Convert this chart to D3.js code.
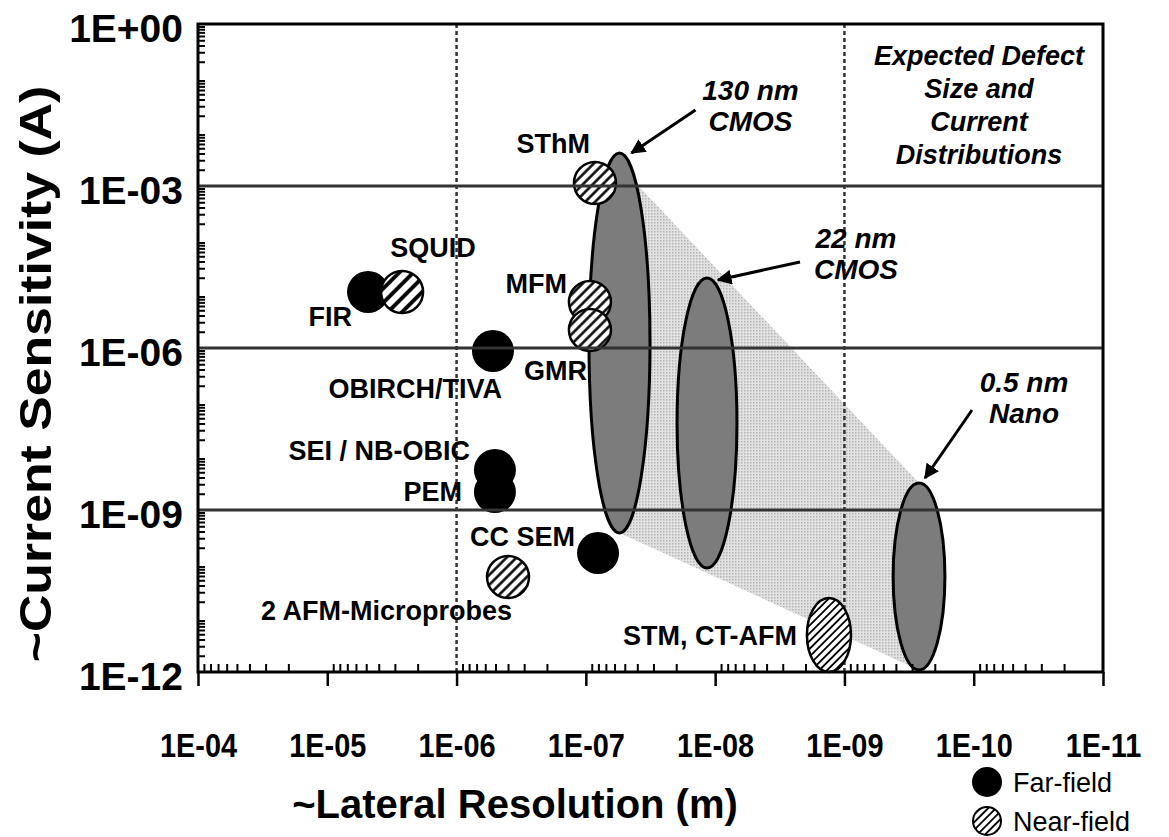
<!DOCTYPE html>
<html>
<head>
<meta charset="utf-8">
<script src="https://cdn.jsdelivr.net/npm/d3@7"></script>
<style>
  body { margin: 0; background: #fff; }
  svg { display: block; font-family: "Liberation Sans", Arial, Helvetica, sans-serif; }
</style>
</head>
<body>
<svg id="chart" width="1169" height="837"></svg>
<script>
// Measurement techniques (markers)
const techNames = ['FIR', 'SQUID', 'OBIRCH/TIVA', 'SEI / NB-OBIC', 'PEM', 'CC SEM', '2 AFM-Microprobes', 'SThM', 'MFM', 'GMR']
const techResolution = [4.84e-6, 2.64e-6, 5.23e-7, 5.05e-7, 5.05e-7, 8.05e-8, 4.0e-7, 8.5e-8, 9.3e-8, 9.3e-8]
const techSensitivity = [1.09e-5, 1.09e-5, 8.8e-7, 5.5e-9, 2.15e-9, 1.6e-10, 5.75e-11, 1.14e-3, 7.1e-6, 2.15e-6]
const techField = ['far', 'near', 'far', 'far', 'far', 'far', 'near', 'near', 'near', 'near']

// STM covers a range, drawn as an ellipse
const stmName = 'STM, CT-AFM'
const stmResolution = [1.95e-9, 8.9e-10]
const stmSensitivity = [2.34e-11, 1e-12]

// Expected defect size / current distributions per technology node
const nodeNames = [['130 nm', 'CMOS'], ['22 nm', 'CMOS'], ['0.5 nm', 'Nano']]
const nodeResolution = [[9.46e-8, 3.19e-8], [1.97e-8, 6.78e-9], [4.2e-10, 1.67e-10]]
const nodeSensitivity = [[4.08e-3, 3.75e-10], [1.98e-5, 8.43e-11], [3.16e-9, 1.09e-12]]

// Shaded trend band joining the nodes
const bandResolution = [5.49e-8, 2.65e-10, 2.65e-10, 5.49e-8]
const bandSensitivity = [2.35e-3, 3.16e-9, 1.09e-12, 3.75e-10]

// Axes
const xTicks = [1e-4, 1e-5, 1e-6, 1e-7, 1e-8, 1e-9, 1e-10, 1e-11]
const xTickLabels = ['1E-04', '1E-05', '1E-06', '1E-07', '1E-08', '1E-09', '1E-10', '1E-11']
const yTicks = [1, 1e-3, 1e-6, 1e-9, 1e-12]
const yTickLabels = ['1E+00', '1E-03', '1E-06', '1E-09', '1E-12']
const gridSensitivity = [1e-3, 1e-6, 1e-9]
const gridResolution = [1e-6, 1e-9]
const boxNote = ['Expected Defect', 'Size and', 'Current', 'Distributions']
const legendItems = ['Far-field', 'Near-field']

// label placement relative to marker centre (anchor, dx, dy)
const labelPlace = {
  'FIR': ['end', -16, 34],
  'SQUID': ['middle', 31, -35],
  'OBIRCH/TIVA': ['end', 9, 47],
  'SEI / NB-OBIC': ['end', -25, -10],
  'PEM': ['end', -33, 9],
  'CC SEM': ['end', -23, -7],
  '2 AFM-Microprobes': ['end', 4, 43],
  'SThM': ['end', -5, -30],
  'MFM': ['end', -23, -9],
  'GMR': ['end', -3, 50]
}
// arrow/text offsets from the top of each node ellipse
const nodeNote = [
  { tip: [12, 0], from: [76, -43], text: [131, -53] },
  { tip: [11, 2], from: [93, -16], text: [149, -30] },
  { tip: [6, -5], from: [53, -73], text: [105, -91] }
]

const plotLeft = 198, plotRight = 1103, plotTop = 24, plotBottom = 672
const x = d3.scaleLog().domain([1e-4, 1e-11]).range([plotLeft, plotRight])
const y = d3.scaleLog().domain([1, 1e-12]).range([plotTop, plotBottom])

const svg = d3.select('#chart')
const defs = svg.append('defs')

// patterns
const hatch = (id, size, w) => {
  const p = defs.append('pattern').attr('id', id)
    .attr('patternUnits', 'userSpaceOnUse')
    .attr('width', size).attr('height', size)
    .attr('patternTransform', 'rotate(-45)')
  p.append('rect').attr('width', size).attr('height', size).attr('fill', '#fff')
  p.append('line').attr('x1', 0).attr('x2', size).attr('y1', size / 2).attr('y2', size / 2)
    .attr('stroke', '#000').attr('stroke-width', w)
}
hatch('hatch', 7, 2.5)
hatch('hatchWide', 10, 3.8)
hatch('hatchSmall', 5.5, 1.8)

const stip = defs.append('pattern').attr('id', 'stipple')
  .attr('patternUnits', 'userSpaceOnUse').attr('width', 3).attr('height', 3)
stip.append('rect').attr('width', 3).attr('height', 3).attr('fill', '#e2e2e2')
stip.append('rect').attr('width', 1.5).attr('height', 1.5).attr('fill', '#b4b4b4')

defs.append('marker').attr('id', 'arrow')
  .attr('viewBox', '0 0 10 10').attr('refX', 9).attr('refY', 5)
  .attr('markerWidth', 5).attr('markerHeight', 5).attr('orient', 'auto')
  .append('path').attr('d', 'M0,0L10,5L0,10z').attr('fill', '#000')

// shaded band
svg.append('path')
  .datum(d3.zip(bandResolution, bandSensitivity))
  .attr('d', d3.line().x(d => x(d[0])).y(d => y(d[1])).curve(d3.curveLinearClosed))
  .attr('fill', 'url(#stipple)')

// dotted vertical lines
svg.append('g').selectAll('line').data(gridResolution).join('line')
  .attr('x1', d => x(d)).attr('x2', d => x(d))
  .attr('y1', plotTop).attr('y2', plotBottom)
  .attr('stroke', '#333').attr('stroke-width', 2.5).attr('stroke-dasharray', '4,3')

// node ellipses
const ell = (rs, ss) => ({
  cx: (x(rs[0]) + x(rs[1])) / 2,
  cy: (y(ss[0]) + y(ss[1])) / 2,
  rx: Math.abs(x(rs[0]) - x(rs[1])) / 2,
  ry: Math.abs(y(ss[0]) - y(ss[1])) / 2
})
const nodes = nodeNames.map((n, i) => Object.assign({ name: n, note: nodeNote[i] }, ell(nodeResolution[i], nodeSensitivity[i])))
svg.append('g').selectAll('ellipse').data(nodes).join('ellipse')
  .attr('cx', d => d.cx).attr('cy', d => d.cy).attr('rx', d => d.rx).attr('ry', d => d.ry)
  .attr('fill', '#7c7c7c').attr('stroke', '#000').attr('stroke-width', 3)

// STM ellipse
const stm = ell(stmResolution, stmSensitivity)
svg.append('ellipse')
  .attr('cx', stm.cx).attr('cy', stm.cy).attr('rx', stm.rx).attr('ry', stm.ry)
  .attr('fill', 'url(#hatchSmall)').attr('stroke', '#000').attr('stroke-width', 2.5)

// technique markers
const techs = techNames.map((n, i) => ({ name: n, res: techResolution[i], sens: techSensitivity[i], field: techField[i] }))
svg.append('g').selectAll('circle').data(techs).join('circle')
  .attr('cx', d => x(d.res)).attr('cy', d => y(d.sens)).attr('r', 21)
  .attr('fill', d => d.field === 'far' ? '#000' : (d.name === 'SQUID' ? 'url(#hatchWide)' : 'url(#hatch)'))
  .attr('stroke', '#000').attr('stroke-width', d => d.field === 'far' ? 0 : 2.5)

// horizontal grid lines (on top)
svg.append('g').selectAll('line').data(gridSensitivity).join('line')
  .attr('x1', plotLeft).attr('x2', plotRight)
  .attr('y1', d => y(d)).attr('y2', d => y(d))
  .attr('stroke', '#333').attr('stroke-width', 3)

// frame
svg.append('path')
  .attr('d', `M${plotLeft},${plotBottom}V${plotTop}H${plotRight}V${plotBottom}Z`)
  .attr('fill', 'none').attr('stroke', '#000').attr('stroke-width', 3)

// axes ticks
const minors = (lo, hi) => d3.range(lo, hi).flatMap(e => d3.range(2, 10).map(k => k * Math.pow(10, e)))
const xAxisMinor = svg.append('g').attr('transform', `translate(0,${plotBottom})`)
  .call(d3.axisTop(x).tickValues(minors(-11, -4)).tickSize(8).tickFormat(''))
const xAxisMajor = svg.append('g').attr('transform', `translate(0,${plotBottom})`)
  .call(d3.axisBottom(x).tickValues(xTicks).tickSize(14).tickPadding(47)
    .tickFormat((d, i) => xTickLabels[i]))
const yAxisMinor = svg.append('g').attr('transform', `translate(${plotLeft},0)`)
  .call(d3.axisRight(y).tickValues(minors(-12, 0)).tickSize(7).tickFormat(''))
const yAxisMajor = svg.append('g').attr('transform', `translate(${plotLeft},0)`)
  .call(d3.axisLeft(y).tickValues(yTicks).tickSize(0).tickPadding(15)
    .tickFormat((d, i) => yTickLabels[i]))
;[xAxisMinor, xAxisMajor, yAxisMinor, yAxisMajor].forEach(a => {
  a.select('.domain').remove()
  a.selectAll('line').attr('stroke', '#000').attr('stroke-width', 2)
})
xAxisMajor.selectAll('line').attr('stroke-width', 2.5)
xAxisMajor.selectAll('text')
  .attr('font-size', 34).attr('font-weight', 'bold').attr('fill', '#000')
  .attr('transform', 'scale(0.85,1)')
  .attr('font-family', '"Liberation Sans", Arial, sans-serif')
yAxisMajor.selectAll('text')
  .attr('font-size', 39).attr('font-weight', 'bold').attr('fill', '#000')
  .attr('dy', '0.45em')
  .attr('font-family', '"Liberation Sans", Arial, sans-serif')

// axis titles
svg.append('text')
  .attr('x', 515).attr('y', 818).attr('text-anchor', 'middle')
  .attr('font-size', 40).attr('font-weight', 'bold')
  .text('~Lateral Resolution (m)')
svg.append('text')
  .attr('transform', 'translate(51,374) rotate(-90) scale(1.15,1)')
  .attr('text-anchor', 'middle')
  .attr('font-size', 45).attr('font-weight', 'bold')
  .text('~Current Sensitivity (A)')

// technique labels
svg.append('g').selectAll('text').data(techs).join('text')
  .attr('x', d => x(d.res) + labelPlace[d.name][1])
  .attr('y', d => y(d.sens) + labelPlace[d.name][2])
  .attr('text-anchor', d => labelPlace[d.name][0])
  .attr('font-size', 27).attr('font-weight', 'bold')
  .text(d => d.name)
svg.append('text')
  .attr('x', stm.cx - stm.rx - 10).attr('y', stm.cy + 10)
  .attr('text-anchor', 'end')
  .attr('font-size', 27).attr('font-weight', 'bold')
  .text(stmName)

// node notes with arrows
const notes = svg.append('g').selectAll('g').data(nodes).join('g')
  .attr('transform', d => `translate(${d.cx},${d.cy - d.ry})`)
notes.append('line')
  .attr('x1', d => d.note.from[0]).attr('y1', d => d.note.from[1])
  .attr('x2', d => d.note.tip[0]).attr('y2', d => d.note.tip[1])
  .attr('stroke', '#000').attr('stroke-width', 3).attr('marker-end', 'url(#arrow)')
notes.append('text')
  .attr('text-anchor', 'middle')
  .attr('font-size', 28).attr('font-weight', 'bold').attr('font-style', 'italic')
  .selectAll('tspan').data(d => d.name.map(s => ({ s, t: d.note.text }))).join('tspan')
  .attr('x', d => d.t[0]).attr('y', (d, i) => d.t[1] + i * 31)
  .text(d => d.s)

// box note
svg.append('text')
  .attr('text-anchor', 'middle')
  .attr('font-size', 27).attr('font-weight', 'bold').attr('font-style', 'italic')
  .selectAll('tspan').data(boxNote).join('tspan')
  .attr('x', 979).attr('y', (d, i) => 65 + i * 33)
  .text(d => d)

// legend
const legend = svg.append('g').attr('transform', 'translate(987,782)')
  .selectAll('g').data(legendItems).join('g')
  .attr('transform', (d, i) => `translate(0,${i * 39})`)
legend.append('circle').attr('r', (d, i) => i ? 14 : 15)
  .attr('fill', (d, i) => i ? 'url(#hatchSmall)' : '#000')
  .attr('stroke', '#000').attr('stroke-width', (d, i) => i ? 2 : 0)
legend.append('text').attr('x', 26).attr('y', 10)
  .attr('font-size', 27)
  .text(d => d)
</script>
</body>
</html>
